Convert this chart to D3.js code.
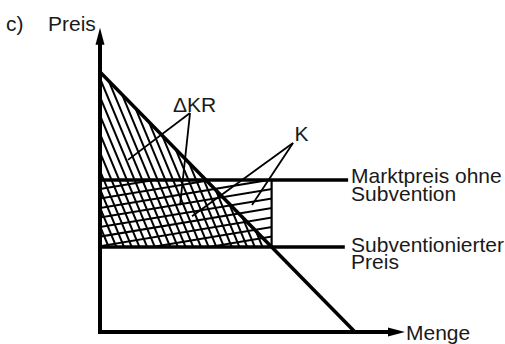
<!DOCTYPE html>
<html lang="de">
<head>
    <meta charset="UTF-8">
    <title>Subvention</title>
    <script src="https://d3js.org/d3.v7.min.js"></script>
    <style>
        body { margin: 0; background: #fff; }
        text {
            font-family: 'Liberation Sans', Arial, sans-serif;
            fill: #1a1a1a;
            font-size: 21px;
        }
    </style>
</head>
<body>
    <svg id="chart" width="505" height="344"></svg>
    <script>
        // Mengen- und Preiseinheiten (schematisch)
        const demandQ = [0, 100];
        const demandP = [100, 0];
        const marketPrice = 58.5;
        const subsidizedPrice = 32.7;
        const axisEnd = [119.6, 117];          // Ende der Achsen (Menge, Preis)
        const priceLineEnd = [97.3, 96];       // Ende der Preislinien
        const priceLabels = [["Marktpreis ohne", "Subvention"], ["Subventionierter", "Preis"]];
        const axisLabels = ["Preis", "Menge"];
        const areaLabels = ["\u0394KR", "K"];

        const chart = d3.select("#chart");
        const x = d3.scaleLinear().domain([0, 100]).range([100, 355]);
        const y = d3.scaleLinear().domain([0, 100]).range([332, 72]);

        const demandAt = p => demandQ[0] + (demandP[0] - p) / (demandP[0] - demandP[1]) * (demandQ[1] - demandQ[0]);
        const qSub = demandAt(subsidizedPrice);

        const defs = chart.append("defs");

        // hatch lines clipped to a polygon
        function hatch(id, poly, dx, dy, step, offset, width) {
            defs.append("clipPath").attr("id", id)
                .append("polygon")
                .attr("points", poly.map(d => x(d[0]) + "," + y(d[1])).join(" "));
            const g = chart.append("g").attr("clip-path", `url(#${id})`);
            const len = Math.hypot(dx, dy);
            const ux = dx / len, uy = dy / len;      // Richtung
            const nx = -uy, ny = ux;                // Normale
            const cx = 250, cy = 180;
            for (let k = -60; k <= 60; k++) {
                const o = k * step + offset;
                const px = cx + nx * o, py = cy + ny * o;
                g.append("line")
                    .attr("x1", px - ux * 600).attr("y1", py - uy * 600)
                    .attr("x2", px + ux * 600).attr("y2", py + uy * 600)
                    .attr("stroke", "#000")
                    .attr("stroke-width", width);
            }
        }

        // Konsumentenrente-Änderung: steile Schraffur
        hatch("krClip", [[0, demandP[0]], [qSub, subsidizedPrice], [0, subsidizedPrice]], 1, 2.4, 7.1, 0, 2);
        // Kosten der Subvention: flache Schraffur
        hatch("kClip", [[0, marketPrice], [qSub, marketPrice], [qSub, subsidizedPrice], [0, subsidizedPrice]], 6, -1, 9.4, 3, 2);

        // Preislinien
        chart.append("line")
            .attr("x1", x(0)).attr("y1", y(marketPrice))
            .attr("x2", x(priceLineEnd[0])).attr("y2", y(marketPrice))
            .attr("stroke", "#000").attr("stroke-width", 3.5);
        chart.append("line")
            .attr("x1", x(0)).attr("y1", y(subsidizedPrice))
            .attr("x2", x(priceLineEnd[1])).attr("y2", y(subsidizedPrice))
            .attr("stroke", "#000").attr("stroke-width", 3.5);
        chart.append("line")
            .attr("x1", x(qSub)).attr("y1", y(marketPrice))
            .attr("x2", x(qSub)).attr("y2", y(subsidizedPrice))
            .attr("stroke", "#000").attr("stroke-width", 2.2);

        // Nachfragekurve
        chart.append("line")
            .attr("x1", x(demandQ[0])).attr("y1", y(demandP[0]))
            .attr("x2", x(demandQ[1])).attr("y2", y(demandP[1]))
            .attr("stroke", "#000").attr("stroke-width", 3.5);

        // Achsen
        chart.append("line")
            .attr("x1", x(0)).attr("y1", y(0))
            .attr("x2", x(0)).attr("y2", y(axisEnd[1]) + 12)
            .attr("stroke", "#000").attr("stroke-width", 4);
        chart.append("line")
            .attr("x1", x(0) - 2).attr("y1", y(0))
            .attr("x2", x(axisEnd[0]) - 12).attr("y2", y(0))
            .attr("stroke", "#000").attr("stroke-width", 4);
        chart.append("path")
            .attr("d", `M${x(0)},${y(axisEnd[1])} L${x(0) + 4.5},${y(axisEnd[1]) + 17} L${x(0) - 4.5},${y(axisEnd[1]) + 17} Z`)
            .attr("fill", "#000");
        chart.append("path")
            .attr("d", `M${x(axisEnd[0])},${y(0)} L${x(axisEnd[0]) - 17},${y(0) - 4.5} L${x(axisEnd[0]) - 17},${y(0) + 4.5} Z`)
            .attr("fill", "#000");

        // Hinweislinien
        const pointers = [
            { from: [35.3, 84.2], to: [[11, 66.2], [31.4, 48.8]] },
            { from: [75.7, 72.7], to: [[36.1, 44.5], [59.6, 48.8]] }
        ];
        pointers.forEach(p => p.to.forEach(t => {
            chart.append("line")
                .attr("x1", x(p.from[0])).attr("y1", y(p.from[1]))
                .attr("x2", x(t[0])).attr("y2", y(t[1]))
                .attr("stroke", "#000").attr("stroke-width", 1.8);
        }));

        // Beschriftung
        chart.append("text").attr("x", 6).attr("y", 31).text("c)");
        chart.append("text").attr("x", 48).attr("y", 31).text(axisLabels[0]);
        chart.append("text").attr("x", x(axisEnd[0]) + 1).attr("y", y(0) + 8).text(axisLabels[1]);

        chart.append("text").attr("x", x(28.6)).attr("y", y(84.6)).text(areaLabels[0]);
        chart.append("text").attr("x", x(76.3)).attr("y", y(73.4)).text(areaLabels[1]);

        const labelX = x(Math.max(...priceLineEnd)) + 3;
        const labelGap = [[3, 18.5], [5, 17]];
        [marketPrice, subsidizedPrice].forEach((p, i) => {
            const t = chart.append("text")
                .attr("x", labelX).attr("y", y(p) + labelGap[i][0]);
            priceLabels[i].forEach((s, j) => {
                t.append("tspan").attr("x", labelX)
                    .attr("dy", j === 0 ? 0 : labelGap[i][1]).text(s);
            });
        });
    </script>
</body>
</html>
